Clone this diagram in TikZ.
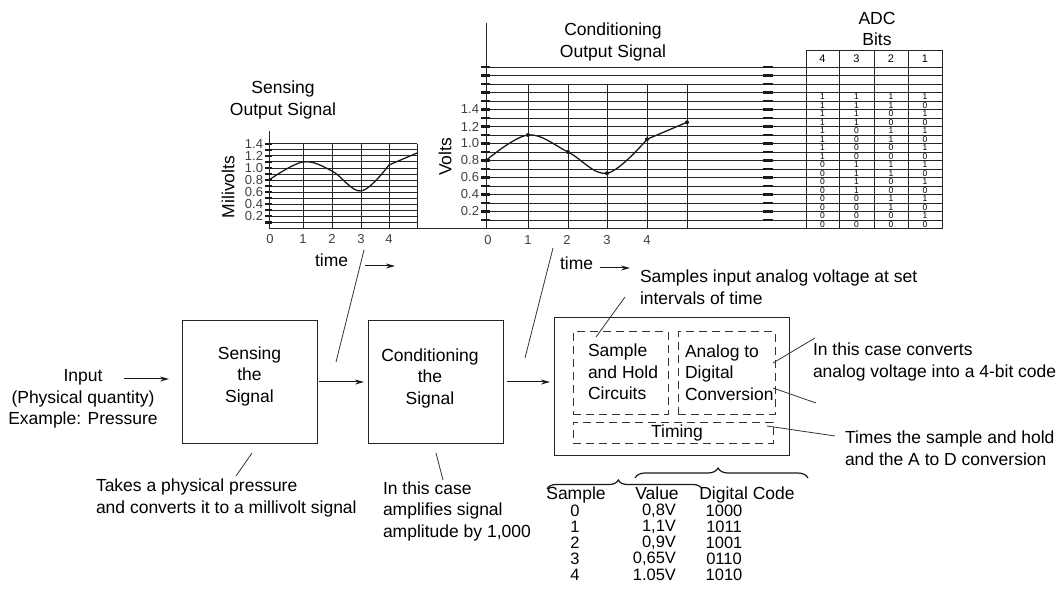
\documentclass[tikz,border=0pt]{standalone}
\usepackage{fontspec}
\setmainfont{Liberation Sans}
\usetikzlibrary{arrows.meta,decorations.pathreplacing}
\begin{document}
\begin{tikzpicture}[x=1pt,y=-1pt,
  every node/.style={inner sep=0pt, outer sep=0pt},
  txt/.style={font=\fontsize{17.5}{21.5}\selectfont, align=left},
  ctxt/.style={font=\fontsize{17.5}{21.5}\selectfont, align=center},
  rowtxt/.style={font=\fontsize{16.5}{16.5}\selectfont},
  axlab/.style={font=\fontsize{13}{14}\selectfont, text=black!75},
  bitlab/.style={font=\fontsize{8.5}{9}\selectfont},
  hdr/.style={font=\fontsize{11}{12}\selectfont},
  blk/.style={draw=black!85, line width=1pt},
  dbox/.style={draw=black!80, line width=1pt, dash pattern=on 8pt off 5pt},
  gline/.style={draw=black!85, line width=0.9pt},
  thk/.style={draw=black!90, line width=2.2pt},
  ann/.style={draw=black!80, line width=0.8pt},
  arr/.style={draw=black!90, line width=1pt, -{Stealth[length=9pt,width=5pt]}},
  crv/.style={draw=black!90, line width=1.3pt},
  brc/.style={draw=black!90, line width=1.2pt, decorate},
]
\useasboundingbox (0,0) rectangle (1058,612);

% ---------------- Sensing chart ----------------
\node[ctxt] (sTitle) at (283,100) {Sensing\\Output Signal};
\draw[gline] (269,131) -- (269,228.5);
\foreach \v in {1,...,14} {
  \pgfmathsetmacro\yy{228.5-6.05*\v}
  \draw[gline] (265,\yy) -- (417,\yy);
  \draw[thk] (265,\yy) -- (272,\yy);
}
\foreach \xx in {303,332,361,389,417} \draw[gline] (\xx,144) -- (\xx,228.5);
\foreach \v/\l in {2/0.2,4/0.4,6/0.6,8/0.8,10/1.0,12/1.2,14/1.4}
  \node[axlab, anchor=east] (sy\v) at (263,{228.5-6.05*\v}) {\l};
\foreach \xx/\l in {270/0,303/1,332/2,361/3,389/4}
  \node[axlab] (sx\l) at (\xx,239) {\l};
\node[ctxt, rotate=90] (mv) at (228,187) {Milivolts};
\draw[crv] plot[smooth, tension=0.6] coordinates {(269,180) (303,162) (332,171) (361,191) (389,165)} -- (417,153);
\node[txt, anchor=base west] (stime) at (315,267) {time};
\coordinate (sarA) at (365,266);
\coordinate (sarB) at (395,266);
\draw[arr] (sarA) -- (sarB);

% baseline shared by both charts and the table
\draw[gline] (269,228.5) -- (942,228.5);

% ---------------- Conditioning chart ----------------
\node[ctxt] (cTitle) at (613,42) {Conditioning\\Output Signal};
\draw[gline] (486,23) -- (486,228.5);
\foreach \v in {1,...,19} {
  \pgfmathsetmacro\yy{228.5-8.5*\v}
  \draw[gline] (481,\yy) -- (942,\yy);
  \draw[thk] (481,\yy) -- (490,\yy);
  \draw[thk] (763,\yy) -- (773,\yy);
}
\foreach \xx in {528,568,607,647,687} \draw[gline] (\xx,84) -- (\xx,228.5);
\foreach \v/\l in {2/0.2,4/0.4,6/0.6,8/0.8,10/1.0,12/1.2,14/1.4}
  \node[axlab, anchor=east] (cy\v) at (479,{228.5-8.5*\v}) {\l};
\foreach \xx/\l in {488/0,528/1,567/2,607/3,647/4}
  \node[axlab] (cx\l) at (\xx,240) {\l};
\node[ctxt, rotate=90] (vo) at (445,157) {Volts};
\draw[crv] plot[smooth, tension=0.6] coordinates {(486,160.5) (528,135) (568,152) (607,173.25) (647,139.25)} -- (687,122.25);
\foreach \xx/\yy in {486/160.5,528/135,568/152,607/173.25,647/139.25,687/122.25}
  \fill[black!90] (\xx,\yy) circle (2pt);
\node[txt, anchor=base west] (ctime) at (560,270) {time};
\coordinate (carA) at (600,268);
\coordinate (carB) at (630,268);
\draw[arr] (carA) -- (carB);

% ---------------- ADC bits table ----------------
\node[ctxt] (aTitle) at (877,29) {ADC\\Bits};
\draw[gline] (806,50) rectangle (942,228.5);
\foreach \xx in {839,874,908} \draw[gline] (\xx,50) -- (\xx,228.5);
\foreach \xx/\l in {822.5/4,856.5/3,891/2,925/1}
  \node[hdr] (h\l) at (\xx,58.5) {\l};
\foreach \n in {0,...,15} {
  \pgfmathtruncatemacro\ba{floor(\n/8)}
  \pgfmathtruncatemacro\bb{mod(floor(\n/4),2)}
  \pgfmathtruncatemacro\bc{mod(floor(\n/2),2)}
  \pgfmathtruncatemacro\bd{mod(\n,2)}
  \pgfmathsetmacro\yy{228.5-8.5*\n-4.25}
  \node[bitlab] (bA\n) at (822.5,\yy) {\ba};
  \node[bitlab] (bB\n) at (856.5,\yy) {\bb};
  \node[bitlab] (bC\n) at (891,\yy) {\bc};
  \node[bitlab] (bD\n) at (925,\yy) {\bd};
}

% ---------------- Block diagram ----------------
\node[ctxt] (inp) at (83,399) {Input\\(Physical quantity)\\Example: Pressure};
\node[blk, minimum width=135pt, minimum height=122pt] (sense) at (249.5,382) {};
\node[ctxt] (senseT) at (249.5,376) {Sensing\\the\\Signal};
\node[blk, minimum width=135pt, minimum height=122pt] (cond) at (435.5,382) {};
\node[ctxt] (condT) at (430,378) {Conditioning\\the\\Signal};
\node[blk, minimum width=235pt, minimum height=137pt] (adc) at (671.5,386.5) {};
\node[dbox, minimum width=95pt, minimum height=82pt] (sh) at (620.5,373) {};
\node[txt, anchor=west] (shT) at (588,372) {Sample\\and Hold\\Circuits};
\node[dbox, minimum width=97pt, minimum height=82pt] (ad) at (726.5,373) {};
\node[txt, anchor=west] (adT) at (685,372.5) {Analog to\\Digital\\Conversion};
\node[dbox, minimum width=200pt, minimum height=21pt] (tim) at (673,432.5) {};
\node[ctxt] (timT) at (677,433) {Timing};

\coordinate (inArr) at (124,379);
\draw[arr, shorten >=13pt] (inArr) -- (inArr -| sense.west);
\draw[arr, shorten <=2pt, shorten >=4pt] (sense.east) -- (sense.east -| cond.west);
\draw[arr, shorten <=4pt, shorten >=4pt] (cond.east) -- (cond.east -| adc.west);

% slanted links to the charts
\coordinate (l1a) at (336,362); \coordinate (l1b) at (364,250);
\draw[ann] (l1a) -- (l1b);
\coordinate (l2a) at (525,358); \coordinate (l2b) at (553,248);
\draw[ann] (l2a) -- (l2b);

% annotations
\node[txt, anchor=west] (takes) at (96,498) {Takes a physical pressure\\and converts it to a millivolt signal};
\coordinate (t1a) at (252,453); \coordinate (t1b) at (236,476);
\draw[ann] (t1a) -- (t1b);
\node[txt, anchor=west] (ampl) at (383,511) {In this case\\amplifies signal\\amplitude by 1,000};
\coordinate (t2a) at (436,453); \coordinate (t2b) at (443,480);
\draw[ann] (t2a) -- (t2b);
\node[txt, anchor=west] (samp) at (640,287) {Samples input analog voltage at set\\intervals of time};
\coordinate (t3a) at (625,297); \coordinate (t3b) at (596,337);
\draw[ann] (t3a) -- (t3b);
\node[txt, anchor=west] (conv) at (813,362) {In this case converts\\analog voltage into a 4-bit code};
\coordinate (t4a) at (773,363); \coordinate (t4b) at (815,338);
\draw[ann] (t4a) -- (t4b);
\coordinate (t5a) at (773,388); \coordinate (t5b) at (816,403);
\draw[ann] (t5a) -- (t5b);
\node[txt, anchor=west] (times) at (845,448) {Times the sample and hold\\and the A to D conversion};
\coordinate (t6a) at (767,426); \coordinate (t6b) at (835,436);
\draw[ann] (t6a) -- (t6b);

% ---------------- Sample table ----------------
\draw[brc, decoration={brace, amplitude=9pt, aspect=0.46}] (547,489) -- (702,489);
\draw[brc, decoration={brace, amplitude=10pt, aspect=0.48}] (635,478) -- (808,478);
\node[ctxt, anchor=base] (hS) at (576,499) {Sample};
\node[ctxt, anchor=base] (hV) at (657,499) {Value};
\node[ctxt, anchor=base] (hD) at (747,499) {Digital Code};
\foreach \i/\s/\val/\code in {0/0/{0,8V}/1000, 1/1/{1,1V}/1011, 2/2/{0,9V}/1001, 3/3/{0,65V}/0110, 4/4/{1.05V}/1010} {
  \pgfmathsetmacro\yy{511+16*\i}
  \node[rowtxt] (rs\i) at (575,\yy) {\s};
  \node[rowtxt, anchor=east] (rv\i) at (676,\yy) {\val};
  \node[rowtxt] (rc\i) at (724,\yy) {\code};
}
\end{tikzpicture}
\end{document}
